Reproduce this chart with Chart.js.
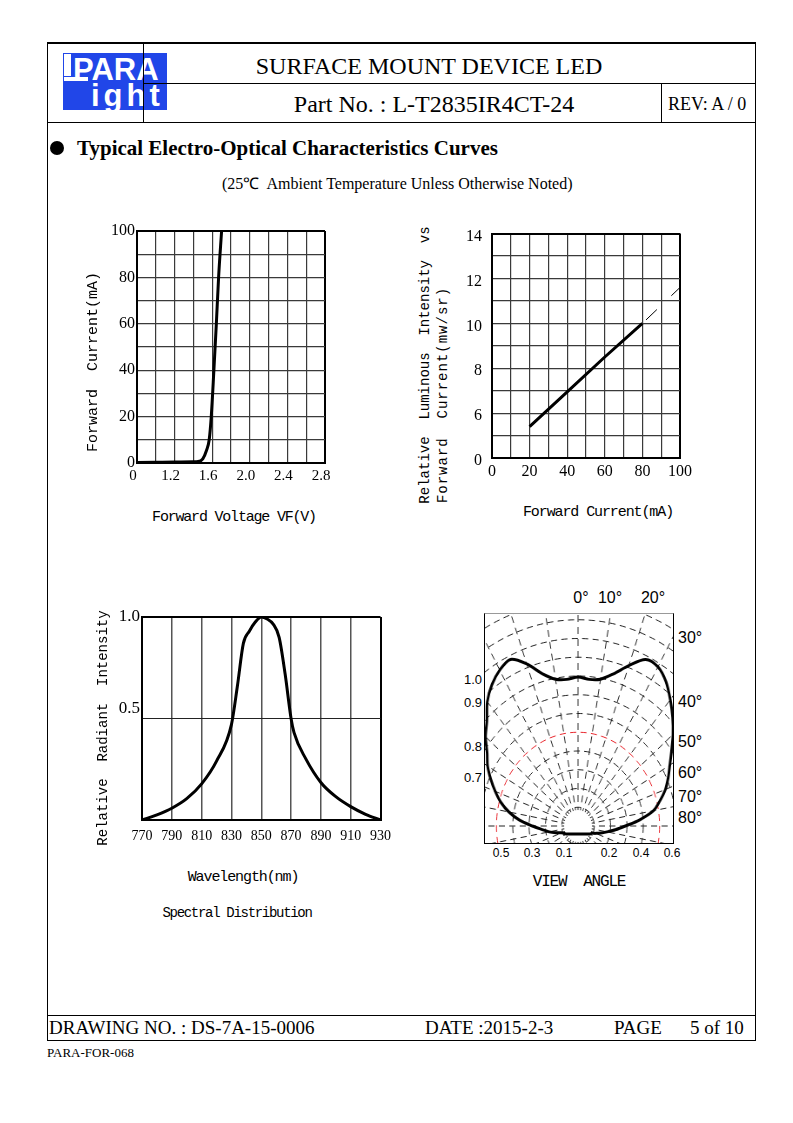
<!DOCTYPE html>
<html>
<head>
<meta charset="utf-8">
<title>L-T2835IR4CT-24</title>
<script src="https://cdn.jsdelivr.net/npm/chart.js@4.4.1/dist/chart.umd.min.js"></script>
<style>
  html, body { margin: 0; padding: 0; background: #fff; }
  body { width: 793px; height: 1123px; position: relative; overflow: hidden; font-family: 'Liberation Serif', serif; color: #000; }
  .linha { position: absolute; background: #000; }
  .txt { position: absolute; white-space: pre; color: #000; }
  canvas { position: absolute; }
  #logo { position: absolute; left: 63px; top: 53px; width: 104px; height: 57px; background: #2146e8; overflow: hidden; }
  #logo .l { position: absolute; background: #fff; border: 1px solid #2146e8; box-sizing: border-box; }
  #logo .t { position: absolute; color: #fff; font: bold 31px 'Liberation Sans', sans-serif; line-height: 1; }
  #caixaPolar { position: absolute; left: 484px; top: 613px; width: 188px; height: 229px; border: 1px solid #000; border-top-color: #999; overflow: hidden; }
  #giroPolar { position: absolute; left: -132px; top: -13px; width: 450px; height: 450px; transform: scaleX(0.87); transform-origin: 225px 225px; }
  #giroPolar canvas { left: 0; top: 0; }
  .bolinha { position: absolute; left: 50px; top: 141px; width: 14px; height: 14px; border-radius: 50%; background: #000; }
</style>
</head>
<body>

<div id="logo">
  <div class="l" style="left:0;top:0;width:9px;height:29px"></div>
  <div class="l" style="left:0;top:23px;width:26px;height:6px"></div>
  <div class="t" style="left:10px;top:1px">PARA</div>
  <div class="t" style="left:28px;top:27px;letter-spacing:4px">ight</div>
</div>
<div class="bolinha"></div>

<canvas id="graficoIV" width="242" height="276" style="left:97px;top:217px"></canvas>
<canvas id="graficoIntensidade" width="244" height="274" style="left:452px;top:214px"></canvas>
<canvas id="graficoEspectro" width="297" height="247" style="left:102px;top:603px"></canvas>
<div id="caixaPolar"><div id="giroPolar"><canvas id="graficoPolar" width="450" height="450"></canvas></div></div>

<script>
// Forward current x forward voltage
const tensaoVF = [0.8, 1.0, 1.2, 1.4, 1.45, 1.5, 1.54, 1.568, 1.59, 1.618, 1.644, 1.668, 1.70];
const correnteIF = [0.2, 0.3, 0.4, 0.5, 0.6, 1.8, 5.5, 10, 20, 40, 60, 80, 100];
const rotulosVF = ['0', '', '1.2', '', '1.6', '', '2.0', '', '2.4', '', '2.8'];
const rotulosIF = ['0', '', '20', '', '40', '', '60', '', '80', '', '100'];

// Relative luminous intensity x forward current
const correnteMedida = [20, 40, 60, 80];
const intensidadeRel = [5.4, 6.95, 8.5, 10.0];
const correnteExtrap = [80, 100];
const intensidadeExtrap = [10.0, 11.6];
const rotulosCorrente = ['0', '', '20', '', '40', '', '60', '', '80', '', '100'];
const rotulosIntensidade = ['0', '', '6', '', '8', '', '10', '', '12', '', '14'];

// Spectral distribution
const comprimentoOnda = [770, 780, 790, 800, 810, 820, 830, 834, 838, 842, 846, 850, 854, 858, 862, 866, 870, 872, 880, 890, 900, 910, 920, 930];
const intensidadeRad = [0, 0.025, 0.058, 0.105, 0.178, 0.29, 0.47, 0.66, 0.87, 0.93, 0.975, 1.0, 0.99, 0.965, 0.9, 0.72, 0.5, 0.43, 0.3, 0.185, 0.115, 0.066, 0.028, 0];
const rotulosOnda = ['770', '790', '810', '830', '850', '870', '890', '910', '930'];
const rotulosRad = ['', ['0.5', ''], '1.0'];

// Radiation pattern (view angle)
const anguloVisao = [
  0, 5, 10, 15, 20, 25, 30, 35, 40, 45, 50, 55, 60, 65, 70, 75, 80, 85,
  90, 95, 100, 105, 110, 115, 120, 125, 130, 135, 140, 145, 150, 155, 160, 165, 170, 175,
  180, 185, 190, 195, 200, 205, 210, 215, 220, 225, 230, 235, 240, 245, 250, 255, 260, 265,
  270, 275, 280, 285, 290, 295, 300, 305, 310, 315, 320, 325, 330, 335, 340, 345, 350, 355
];
const intensidadeAng = [
  0.795, 0.785, 0.795, 0.84, 0.91, 0.98, 0.98, 0.94, 0.88, 0.82, 0.76, 0.70, 0.65, 0.61, 0.57, 0.52, 0.47, 0.38,
  0.29, 0.23, 0.18, 0.145, 0.115, 0.093, 0.085, 0.075, 0.066, 0.06, 0.055, 0.052, 0.049, 0.047, 0.045, 0.044, 0.043, 0.043,
  0.043, 0.043, 0.043, 0.044, 0.045, 0.047, 0.049, 0.052, 0.055, 0.06, 0.066, 0.075, 0.085, 0.093, 0.107, 0.14, 0.18, 0.22,
  0.28, 0.36, 0.43, 0.49, 0.54, 0.59, 0.64, 0.68, 0.74, 0.79, 0.865, 0.92, 0.96, 0.98, 0.92, 0.84, 0.795, 0.785
];

Chart.defaults.font.family = "'Liberation Serif', serif";
Chart.defaults.color = '#000';

document.addEventListener('DOMContentLoaded', () => {
    desenharPagina();
    criarGraficoIV();
    criarGraficoIntensidade();
    criarGraficoEspectro();
    criarGraficoPolar();
});

function linha(x, y, w, h) {
    const el = document.createElement('div');
    el.className = 'linha';
    el.style.cssText = `left:${x}px;top:${y}px;width:${w}px;height:${h}px`;
    document.body.appendChild(el);
}

function escreve(texto, x, y, fonte, alinhamento = 'center', girado = false, espaco = 0) {
    const el = document.createElement('div');
    el.className = 'txt';
    el.textContent = texto;
    el.style.font = fonte;
    el.style.letterSpacing = espaco + 'px';
    el.style.left = x + 'px';
    el.style.top = y + 'px';
    const dx = alinhamento === 'left' ? '0' : alinhamento === 'right' ? '-100%' : '-50%';
    el.style.transform = `translate(${dx}, -50%)` + (girado ? ' rotate(-90deg)' : '');
    document.body.appendChild(el);
    return el;
}

function desenharPagina() {
    // moldura
    linha(47, 42, 709, 2);
    linha(47, 42, 1, 999);
    linha(755, 42, 1, 999);
    linha(143, 42, 1, 80);
    linha(143, 83, 612, 1);
    linha(661, 83, 1, 39);
    linha(47, 122, 709, 1);
    linha(47, 1015, 709, 1);
    linha(47, 1040, 709, 1);

    const serif = "'Liberation Serif', serif";
    escreve('SURFACE MOUNT DEVICE LED', 429, 66, `24px ${serif}`);
    escreve('Part No. : L-T2835IR4CT-24', 434, 104, `24px ${serif}`);
    escreve('REV: A / 0', 668, 104, `18px ${serif}`, 'left');
    escreve('Typical Electro-Optical Characteristics Curves', 77, 148, `bold 21px ${serif}`, 'left');
    escreve('(25\u2103  Ambient Temperature Unless Otherwise Noted)', 222, 183, `16px ${serif}`, 'left');

    escreve('DRAWING NO. : DS-7A-15-0006', 49, 1028, `19px ${serif}`, 'left');
    escreve('DATE :2015-2-3', 425, 1028, `19px ${serif}`, 'left');
    escreve('PAGE', 614, 1028, `19px ${serif}`, 'left');
    escreve('5 of 10', 690, 1028, `19px ${serif}`, 'left');
    escreve('PARA-FOR-068', 47, 1053, `13px ${serif}`, 'left');

    // titulos dos eixos
    const mono = "'Liberation Mono', monospace";
    escreve('Forward  Current(mA)', 93, 362, `15px ${mono}`, 'center', true);
    escreve('Forward Voltage VF(V)', 234, 517, `15px ${mono}`, 'center', false, -1.2);

    escreve('Relative  Luminous  Intensity  vs', 425, 365, `14px ${mono}`, 'center', true);
    escreve('Forward  Current(mw/sr)', 443, 395, `14px ${mono}`, 'center', true, 1);
    escreve('Forward Current(mA)', 598, 512, `15px ${mono}`, 'center', false, -1.1);

    escreve('Relative  Radiant  Intensity', 103, 728, `14px ${mono}`, 'center', true);
    escreve('Wavelength(nm)', 243, 877, `15px ${mono}`, 'center', false, -1.1);
    escreve('Spectral Distribution', 237, 913, `14px ${mono}`, 'center', false, -1.3);

    // rotulos do diagrama polar
    const sans = "'Liberation Sans', sans-serif";
    escreve('0°', 581, 598, `16px ${sans}`);
    escreve('10°', 610, 598, `16px ${sans}`);
    escreve('20°', 653, 598, `16px ${sans}`);
    [['30°', 638], ['40°', 702], ['50°', 742], ['60°', 773], ['70°', 797], ['80°', 818]]
        .forEach(([t, y]) => escreve(t, 678, y, `16px ${sans}`, 'left'));
    [['1.0', 679], ['0.9', 702], ['0.8', 746], ['0.7', 777]]
        .forEach(([t, y]) => escreve(t, 482, y, `13px ${sans}`, 'right'));
    [['0.5', 501], ['0.3', 532], ['0.1', 564], ['0.2', 609], ['0.4', 641], ['0.6', 672]]
        .forEach(([t, x]) => escreve(t, x, 853, `12px ${sans}`));
    escreve('VIEW  ANGLE', 579, 882, `16px ${mono}`, 'center', false, -1.2);
}

function ehBorda(ctx) {
    return ctx.index === 0 || ctx.index === ctx.scale.ticks.length - 1;
}

function eixo(cfg) {
    return {
        type: 'linear',
        min: cfg.min,
        max: cfg.max,
        afterFit: s => { if (cfg.horizontal) s.height = cfg.tamanho; else s.width = cfg.tamanho; },
        ticks: {
            stepSize: cfg.passo,
            autoSkip: false,
            maxRotation: 0,
            minRotation: 0,
            padding: cfg.padding,
            labelOffset: cfg.labelOffset || 0,
            color: '#000',
            font: { size: cfg.fonte },
            callback: (v, i) => cfg.rotulos[i]
        },
        grid: {
            drawTicks: false,
            color: ctx => ehBorda(ctx) ? '#000' : (cfg.corGrade || '#3a3a3a'),
            lineWidth: ctx => ehBorda(ctx) ? 2 : (cfg.larguraGrade || 1.2)
        },
        border: { display: true, color: '#000', width: 2 }
    };
}

function opcoesBase(padding, x, y) {
    return {
        animation: false,
        responsive: false,
        devicePixelRatio: 1,
        layout: { padding },
        plugins: { legend: { display: false }, tooltip: { enabled: false } },
        scales: { x, y }
    };
}

function criarGraficoIV() {
    const ctx = document.getElementById('graficoIV').getContext('2d');
    new Chart(ctx, {
        type: 'line',
        data: {
            datasets: [{
                data: tensaoVF.map((v, i) => ({ x: v, y: correnteIF[i] })),
                borderColor: '#000',
                borderWidth: 3,
                pointRadius: 0,
                cubicInterpolationMode: 'monotone'
            }]
        },
        options: opcoesBase({ top: 14, right: 14, left: 0, bottom: 0 },
            eixo({ min: 0.8, max: 2.8, passo: 0.2, rotulos: rotulosVF, horizontal: true, tamanho: 30, padding: 4, labelOffset: -4, fonte: 15 }),
            eixo({ min: 0, max: 100, passo: 10, rotulos: rotulosIF, tamanho: 40, padding: 2, fonte: 16 }))
    });
}

function criarGraficoIntensidade() {
    const ctx = document.getElementById('graficoIntensidade').getContext('2d');
    new Chart(ctx, {
        type: 'line',
        data: {
            datasets: [{
                data: correnteMedida.map((c, i) => ({ x: c, y: intensidadeRel[i] })),
                borderColor: '#000',
                borderWidth: 3,
                pointRadius: 0
            }, {
                data: correnteExtrap.map((c, i) => ({ x: c, y: intensidadeExtrap[i] })),
                borderColor: '#000',
                borderWidth: 1,
                borderDash: [15, 20],
                borderDashOffset: 30,
                pointRadius: 0
            }]
        },
        options: opcoesBase({ top: 14, right: 16, left: 0, bottom: 0 },
            eixo({ min: 0, max: 100, passo: 10, rotulos: rotulosCorrente, horizontal: true, tamanho: 30, padding: 4, fonte: 16 }),
            eixo({ min: 4, max: 14, passo: 1, rotulos: rotulosIntensidade, tamanho: 40, padding: 10, labelOffset: 3, fonte: 16 }))
    });
}

function criarGraficoEspectro() {
    const ctx = document.getElementById('graficoEspectro').getContext('2d');
    new Chart(ctx, {
        type: 'line',
        data: {
            datasets: [{
                data: comprimentoOnda.map((w, i) => ({ x: w, y: intensidadeRad[i] })),
                borderColor: '#000',
                borderWidth: 3,
                pointRadius: 0,
                cubicInterpolationMode: 'monotone'
            }]
        },
        options: opcoesBase({ top: 14, right: 16, left: 0, bottom: 0 },
            eixo({ min: 770, max: 930, passo: 20, rotulos: rotulosOnda, horizontal: true, tamanho: 30, padding: 8, fonte: 14, corGrade: '#555', larguraGrade: 1.5 }),
            eixo({ min: 0, max: 1, passo: 0.5, rotulos: rotulosRad, tamanho: 40, padding: 2, fonte: 17, corGrade: '#222', larguraGrade: 1 }))
    });
}

// esconde o encontro das linhas radiais no centro, como no desenho original
const centroLimpo = {
    id: 'centroLimpo',
    beforeDatasetsDraw(chart) {
        const r = chart.scales.r;
        const ctx = chart.ctx;
        ctx.save();
        ctx.fillStyle = '#fff';
        ctx.beginPath();
        ctx.arc(r.xCenter, r.yCenter, 16, 0, Math.PI * 2);
        ctx.fill();
        ctx.restore();
    }
};

function criarGraficoPolar() {
    const ctx = document.getElementById('graficoPolar').getContext('2d');
    new Chart(ctx, {
        type: 'radar',
        data: {
            labels: anguloVisao,
            datasets: [{
                data: intensidadeAng,
                borderColor: '#000',
                borderWidth: 3,
                backgroundColor: 'transparent',
                fill: false,
                pointRadius: 0,
                tension: 0.3
            }]
        },
        options: {
            animation: false,
            responsive: false,
            devicePixelRatio: 1,
            layout: { padding: 0 },
            plugins: { legend: { display: false }, tooltip: { enabled: false } },
            scales: {
                r: {
                    min: 0,
                    max: 1.2,
                    ticks: { display: false, stepSize: 0.1 },
                    pointLabels: { display: false },
                    grid: {
                        circular: true,
                        // o circulo de 0.5 e vermelho no original
                        color: c => Math.abs(c.tick.value - 0.5) < 1e-6 ? '#e8242b' : '#222',
                        lineWidth: 1,
                        borderDash: [7, 5]
                    },
                    border: { dash: [7, 5] },
                    angleLines: {
                        color: '#222',
                        lineWidth: c => c.index % 2 === 0 ? 1 : 0,
                        borderDash: [7, 5]
                    }
                }
            }
        },
        plugins: [centroLimpo]
    });
}
</script>
</body>
</html>
